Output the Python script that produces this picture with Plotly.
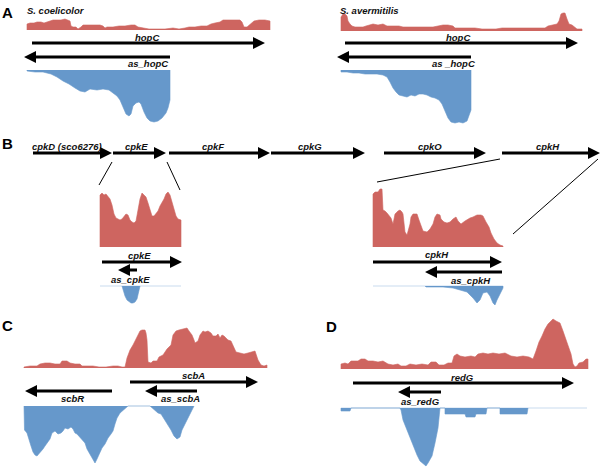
import plotly.graph_objects as go

# ---------------- data ----------------
# coverage profiles: (offset along the region, read depth)
cov_A_sco_fwd = [(0,6),(3,7),(7,7),(10,8),(14,8),(17,7),(20,8),(23,9),(26,10),(30,10),(34,10),(38,11),(41,10),
                 (43,9),(44,4),(46,3),(49,3),(51,1),(54,3),(56,5),(62,5),(68,5),(73,5),(76,4),(78,2),(80,3),(86,3),
                 (92,4),(98,4),(104,5),(108,5),(111,3),(116,2),(122,1),(130,1),(138,1),(146,2),(152,1),(158,2),
                 (162,3),(168,3),(174,4),(180,4),(184,6),(188,7),(193,8),(196,10),(202,10),(208,10),(213,10),
                 (215,8),(217,3),(220,3),(223,6),(227,9),(232,10),(238,10),(243,9)]
cov_A_sco_rev = [(0,1),(8,2),(16,2),(24,4),(30,7),(36,11),(42,14),(48,18),(53,21),(58,22),(63,19),(70,20),(76,19),
                 (82,20),(86,23),(90,26),(93,30),(96,38),(99,44),(102,46),(104,44),(106,36),(109,33),(112,32),
                 (114,34),(117,42),(120,48),(123,51),(127,52),(131,51),(135,48),(139,43),(141,38),(143,30)]
cov_A_sav_fwd = [(0,14),(2,17),(4,17),(6,15),(7,10),(9,7),(11,5),(14,4),(18,4),(22,4),(25,5),(28,6),(32,7),(37,6),
                 (42,7),(46,5),(52,5),(58,5),(62,4),(68,4),(74,4),(80,4),(86,4),(92,4),(97,5),(102,6),(107,6),
                 (112,5),(114,3),(120,3),(128,3),(134,3),(141,2),(148,2),(155,2),(161,3),(168,3),(175,3),(182,3),
                 (190,3),(197,3),(204,3),(207,5),(212,6),(216,7),(218,10),(220,17),(222,18),(224,18),(226,12),
                 (228,7),(231,6),(233,4),(236,2),(241,2)]
cov_A_sav_rev = [(0,2),(6,2),(12,3),(18,3),(24,4),(30,4),(36,4),(42,5),(46,7),(49,12),(52,18),(55,22),(58,25),
                 (62,26),(66,27),(70,25),(74,26),(78,24),(82,24),(86,25),(90,27),(94,28),(98,30),(101,34),(104,42),
                 (107,48),(110,52),(114,53),(118,52),(122,53),(126,51),(128,46),(130,40)]
cov_B_cpkE_fwd = [(0,52),(2,54),(4,52),(6,53),(8,51),(10,48),(12,42),(14,33),(16,29),(18,28),(20,27),(22,28),
                  (24,31),(26,33),(28,32),(30,27),(32,25),(34,24),(36,26),(38,38),(40,48),(42,54),(44,52),(46,50),
                  (48,44),(50,36),(52,31),(54,31),(56,33),(58,36),(60,41),(62,44),(64,48),(66,53),(68,55),(70,52),
                  (72,46),(74,38),(76,31),(78,28),(81,27)]
cov_B_cpkE_rev = [(22,0),(23,4),(25,10),(27,14),(29,16),(31,17),(33,17),(35,16),(37,13),(38.5,7),(40,0)]
cov_B_cpkH_fwd = [(0,53),(2,55),(5,55),(7,58),(9,58),(10,37),(12,36),(14,34),(17,30),(18,29),(20,23),(22,33),
                  (25,36),(27,37),(29,35),(30,33),(32,15),(34,12),(37,23),(38,30),(40,33),(44,33),(46,27),(48,21),
                  (50,16),(54,15),(57,18),(60,23),(62,30),(64,33),(67,32),(68,28),(71,25),(74,24),(77,25),(80,28),
                  (83,30),(85,26),(88,23),(92,26),(95,28),(97,29),(100,30),(104,32),(108,32),(110,31),(113,25),
                  (116,20),(118,14),(121,8),(124,4),(127,2),(130,1)]
cov_B_cpkH_rev = [(52,0),(53,1),(60,1),(70,1),(80,2),(87,4),(94,6),(100,12),(104,17),(107,14),(110,7),(114,6),
                  (117,10),(120,17),(122,19),(124,14),(127,8),(130,2)]
cov_C_fwd = [(0,1),(6,2),(13,2),(16,4),(21,5),(26,5),(31,4),(36,4),(38,7),(43,7),(46,5),(51,4),(56,4),(58,2),
             (64,2),(69,2),(75,1),(82,1),(89,2),(94,2),(98,1),(101,1),(103,10),(106,18),(109,23),(113,32),(116,37),
             (118,38),(121,38),(122,35),(123,28),(124,6),(127,5),(129,7),(133,7),(135,11),(139,13),(143,19),
             (147,23),(149,33),(152,37),(155,38),(158,39),(161,40),(163,40),(165,37),(168,33),(170,28),(171,25),
             (174,27),(176,33),(179,37),(181,36),(184,37),(187,35),(189,32),(192,32),(194,34),(196,30),(198,33),
             (200,32),(202,30),(204,28),(207,27),(210,21),(212,16),(216,15),(220,14),(224,15),(228,16),(231,17),
             (234,8),(237,3),(240,2),(243,3)]
cov_C_rev = [(0,0),(0.5,24),(3,27),(5,35),(7,40),(9,46),(11,49),(13,50),(15,48),(17,45),(19,43),(21,40),(24,36),
             (26,33),(28,27),(31,25),(34,28),(37,27),(39,25),(41,22),(44,23),(47,21),(49,23),(51,27),(53,28),
             (56,31),(59,35),(61,37),(63,43),(66,48),(68,52),(70,56),(71,57),(73,53),(75,49),(78,42),(81,38),
             (84,32),(87,28),(89,25),(91,18),(93,12),(96,7),(99,4),(102,1),(104,0),(126,0),(128,2),(131,5),
             (134,7),(137,8),(141,14),(144,19),(147,24),(150,30),(153,33),(156,31),(158,24),(161,18),(164,12),
             (167,7),(169,2),(170,0)]
cov_D_fwd = [(0,5),(4,6),(7,5),(10,8),(14,8),(17,8),(20,10),(24,10),(27,8),(32,8),(37,7),(42,8),(47,5),(52,4),
             (57,5),(60,3),(65,3),(69,5),(75,4),(81,5),(87,4),(90,7),(95,7),(98,4),(103,4),(107,6),(111,6),
             (113,13),(116,15),(119,13),(124,12),(130,13),(134,12),(137,15),(142,16),(147,15),(152,16),(158,15),
             (164,16),(170,13),(176,12),(182,13),(188,12),(192,10),(195,18),(198,27),(201,33),(204,40),(207,45),
             (210,48),(212,50),(215,48),(219,46),(222,38),(224,32),(227,22),(230,15),(232,5),(234,2),(236,3),
             (238,6),(242,7),(245,10),(247,10)]
cov_D_rev = [(0,3),(9,3),(10,0),(59,0),(60,2),(62,12),(66,22),(69,30),(72,38),(76,47),(79,53),(82,56),(85,58),
             (87,55),(91,48),(94,35),(97,20),(99,0),(104,0),(104,6),(124,6),(125,9),(134,9),(135,6),(145,6),
             (146,0),(159,0),(159,6),(186,6),(187,0)]

# genes: name, tail, tip
genes_A_sco = [("hopC", 32, 265), ("as_hopC", 170, 24)]
genes_A_sav = [("hopC", 345, 578), ("as _hopC", 471, 337)]
genes_B_top = [("cpkD (sco6276)", 33, 112), ("cpkE", 113, 166), ("cpkF", 169, 270), ("cpkG", 271, 365),
               ("cpkO", 384, 486), ("cpkH", 502, 600)]
genes_B_cpkE = [("cpkE", 102, 182), ("as_cpkE", 137, 118)]
genes_B_cpkH = [("cpkH", 373, 502), ("as_cpkH", 502, 425)]
genes_C = [("scbA", 130, 258), ("scbR", 112, 25), ("as_scbA", 197, 145)]
genes_D = [("redG", 353, 574), ("as_redG", 441, 398)]

panel_letters = ["A", "B", "C", "D"]
species = ["S. coelicolor", "S. avermitilis"]

# ---------------- layout / style ----------------
RED = "#CE6560"
BLUE = "#6698CB"
FAINT = "#C9DBEE"
FONT = dict(family="Liberation Sans, Arial, sans-serif", size=9.5, color="#111111",
            style="italic", weight="bold")

fig = go.Figure()

def coverage(pts, x0, base, sign, color):
    xs = [x0 + p for p, _ in pts]
    ys = [base - sign * v for _, v in pts]
    fig.add_trace(go.Scatter(x=[xs[0]] + xs + [xs[-1]], y=[base] + ys + [base], mode="lines",
                             fill="toself", fillcolor=color, line=dict(width=0.6, color=color),
                             hoverinfo="skip"))

def faint(x0, x1, y):
    fig.add_trace(go.Scatter(x=[x0, x1], y=[y, y], mode="lines", line=dict(width=1, color=FAINT),
                             hoverinfo="skip"))

def arrow(tail, tip, y, head=12, hh=6, sw=1.5):
    d = 1 if tip > tail else -1
    b = tip - d * head
    xs = [tail, b, b, tip, b, b, tail, tail]
    ys = [y - sw, y - sw, y - hh, y, y + hh, y + sw, y + sw, y - sw]
    fig.add_trace(go.Scatter(x=xs, y=ys, mode="lines", fill="toself", fillcolor="black",
                             line=dict(width=0, color="black"), hoverinfo="skip"))

def label(text, x, y, size=None, **kw):
    f = dict(FONT)
    if size:
        f["size"] = size
    f.update(kw)
    fig.add_annotation(x=x, y=y, text=text, showarrow=False, font=f, xanchor="center", yanchor="middle")

def genes(lst, rows, lx, ldy):
    for (name, tail, tip), ry, x, dy in zip(lst, rows, lx, ldy):
        arrow(tail, tip, ry)
        label(name, x, ry + dy)

# Panel A
coverage(cov_A_sco_fwd, 27, 30, 1, RED)
coverage(cov_A_sco_rev, 27, 70, -1, BLUE)
coverage(cov_A_sav_fwd, 341, 31, 1, RED)
coverage(cov_A_sav_rev, 341, 70, -1, BLUE)
genes(genes_A_sco, [43, 57], [147, 148], [-6, 6])
genes(genes_A_sav, [43, 57], [458, 453], [-6, 6])
label(species[0], 56, 10, size=9.5)
label(species[1], 369, 10, size=9.5)

# Panel B
genes(genes_B_top, [153] * 6, [67, 136, 213, 310, 430, 548], [-7] * 6)
faint(100, 181, 286)
coverage(cov_B_cpkE_fwd, 100, 247, 1, RED)
coverage(cov_B_cpkE_rev, 100, 286, -1, BLUE)
faint(373, 503, 286)
coverage(cov_B_cpkH_fwd, 373, 247, 1, RED)
coverage(cov_B_cpkH_rev, 373, 286, -1, BLUE)
genes(genes_B_cpkE, [262, 270], [139, 130], [-7, 9])
genes(genes_B_cpkH, [262, 272], [437, 471], [-8, 8])
for (xa, ya, xb, yb) in [(112, 162, 99, 185), (167, 162, 180, 190), (377, 182, 500, 159), (598, 159, 513, 234)]:
    fig.add_trace(go.Scatter(x=[xa, xb], y=[ya, yb], mode="lines", line=dict(width=1, color="black"),
                             hoverinfo="skip"))

# Panel C
coverage(cov_C_fwd, 24, 368, 1, RED)
coverage(cov_C_rev, 24, 406, -1, BLUE)
genes(genes_C, [382, 391, 391], [193, 72, 180], [-7, 7, 7])

# Panel D
faint(341, 587, 408)
coverage(cov_D_fwd, 341, 369, 1, RED)
coverage(cov_D_rev, 341, 408, -1, BLUE)
genes(genes_D, [383, 392], [462, 420], [-6, 9])

for letter, (x, y) in zip(panel_letters, [(7, 12), (7, 143), (7, 325), (331, 326)]):
    label(letter, x, y, size=15, style="normal", color="black")

fig.update_layout(width=600, height=468, margin=dict(l=0, r=0, t=0, b=0), showlegend=False,
                  paper_bgcolor="white", plot_bgcolor="white", hovermode=False)
fig.update_xaxes(range=[0, 600], visible=False, fixedrange=True)
fig.update_yaxes(range=[468, 0], visible=False, fixedrange=True)
fig.write_html("out.html", config={"displayModeBar": False, "staticPlot": True},
               post_script="document.body.style.margin='0';document.body.style.overflow='hidden';")
